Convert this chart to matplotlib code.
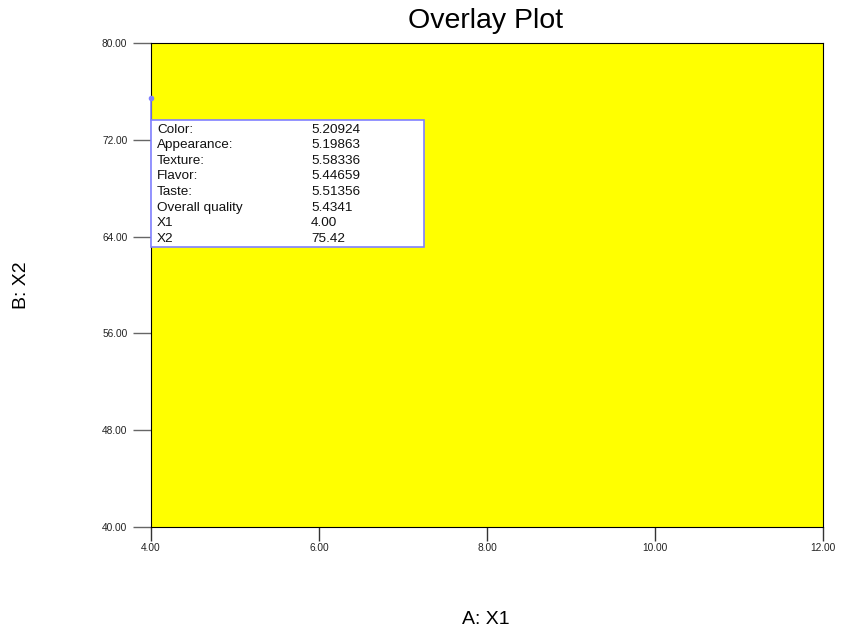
import numpy as np
import matplotlib.pyplot as plt

plt.rcParams['font.family'] = ['Liberation Sans', 'DejaVu Sans']

# Factor ranges
x_range = [4.0, 12.0]
y_range = [40.0, 80.0]
x_ticks = [4.00, 6.00, 8.00, 10.00, 12.00]
y_ticks = [40.00, 48.00, 56.00, 64.00, 72.00, 80.00]

# Flagged point and predicted responses
responses = ['Color:', 'Appearance:', 'Texture:', 'Flavor:', 'Taste:',
             'Overall quality', 'X1', 'X2']
values = ['5.20924', '5.19863', '5.58336', '5.44659', '5.51356',
          '5.4341', '4.00', '75.42']
flag_x = 4.00
flag_y = 75.42

fig = plt.figure(figsize=(8.43, 6.31), dpi=100)
ax = fig.add_axes([0.1791, 0.1648, 0.7972, 0.7670])

# Whole design region is feasible -> yellow fill
ax.fill_between(x_range, y_range[0], y_range[1], color='#ffff00', zorder=0)
ax.set_xlim(x_range)
ax.set_ylim(y_range)

ax.set_xticks(x_ticks)
ax.set_yticks(y_ticks)
ax.set_xticklabels([f'{t:.2f}' for t in x_ticks])
ax.set_yticklabels([f'{t:.2f}' for t in y_ticks])
ax.tick_params(axis='x', direction='out', length=10, width=1, labelsize=7.3,
               color='#333333', pad=1.5, labelcolor='#222222')
ax.tick_params(axis='y', direction='out', length=13, width=1, labelsize=7.3,
               color='#666666', pad=4, labelcolor='#222222')
for s in ax.spines.values():
    s.set_linewidth(0.8)
    s.set_color('black')

fig.text(486 / 843, 1 - 21 / 631, 'Overlay Plot', ha='center', va='center', fontsize=20.5)
fig.text(486 / 843, 1 - 620 / 631, 'A: X1', ha='center', va='center', fontsize=14)
fig.text(22 / 843, 1 - 285 / 631, 'B: X2', ha='center', va='center',
         rotation=90, fontsize=14)

# Flag marker and its info box
box_l, box_r = 0.0, 0.4065
box_t, box_b = 0.8409, 0.5785
ax.plot([flag_x], [flag_y], 'o', color='#8080ff', ms=3, clip_on=False, zorder=5)
ax.plot([0.0, 0.0], [ax.transLimits.transform((flag_x, flag_y))[1], box_t],
        transform=ax.transAxes, color='#8080ff', lw=1.2, clip_on=False, zorder=4)
ax.add_patch(plt.Rectangle((box_l, box_b), box_r - box_l, box_t - box_b,
                           transform=ax.transAxes, facecolor='white',
                           edgecolor='#8080ff', lw=1.2, zorder=3, clip_on=False))

row_h = (box_t - box_b) / 8.15
for i, (lab, val) in enumerate(zip(responses, values)):
    yy = box_t - row_h * (i + 0.62)
    ax.text(0.009, yy, lab, transform=ax.transAxes, fontsize=9.7, va='center',
            zorder=6, color='#111111')
    ax.text(0.238, yy, val, transform=ax.transAxes, fontsize=9.7, va='center',
            zorder=6, color='#111111')

fig.savefig('out.png', dpi=100)
